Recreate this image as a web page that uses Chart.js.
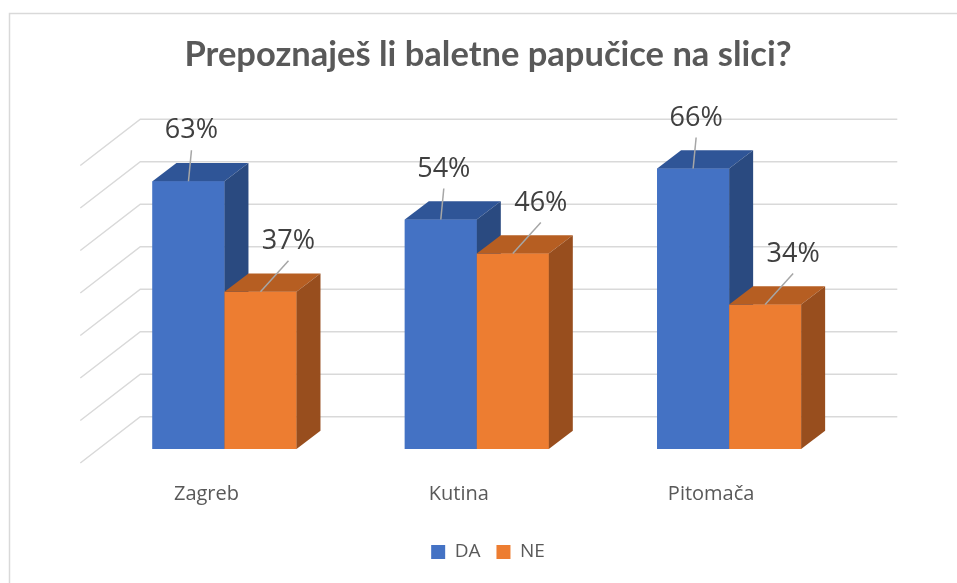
<!DOCTYPE html>
<html>
<head>
<meta charset="utf-8">
<script src="https://cdn.jsdelivr.net/npm/chart.js@4.4.0/dist/chart.umd.min.js"></script>
<style>
  html, body { margin: 0; padding: 0; background: #fff; }
  #wrap { width: 957px; height: 583px; }
</style>
</head>
<body>
<div id="wrap"><canvas id="chart" width="957" height="583"></canvas></div>
<script>
// chart data
const categories = ['Zagreb', 'Kutina', 'Pitomača'];
const seriesNames = ['DA', 'NE'];
const daValues = [63, 54, 66];
const neValues = [37, 46, 34];
const yTicks = [0, 10, 20, 30, 40, 50, 60, 70];

// fake 3d: depth of a bar, and the gap between bar and wall / floor edge
const DEPTH = { x: 24, y: 18.3 };
const GAP = { x: 18, y: 14 };

// draws the back wall, the side faces of the bars and the data labels
const box3d = {
  id: 'box3d',
  beforeDraw(chart) {
    const ctx = chart.ctx;
    ctx.save();
    ctx.strokeStyle = '#d9d9d9';
    ctx.lineWidth = 1.5;
    ctx.beginPath();
    ctx.moveTo(9.5, 583);
    ctx.lineTo(9.5, 13.5);
    ctx.lineTo(957, 13.5);
    ctx.stroke();
    ctx.restore();
  },
  beforeDatasetsDraw(chart) {
    const { ctx, chartArea: a, scales: { y } } = chart;
    const wx = DEPTH.x + GAP.x, wy = DEPTH.y + GAP.y;
    ctx.save();
    ctx.strokeStyle = '#d9d9d9';
    ctx.lineWidth = 1.5;
    yTicks.forEach(function(v) {
      const py = y.getPixelForValue(v);
      ctx.beginPath();
      ctx.moveTo(a.left - GAP.x, py + GAP.y);
      ctx.lineTo(a.left + wx, py - wy);
      ctx.lineTo(a.right + wx, py - wy);
      ctx.stroke();
    });
    ctx.restore();
  },
  afterDatasetsDraw(chart) {
    const ctx = chart.ctx;
    ctx.save();
    // faces, series by series so the next front face hides the side behind it
    chart.data.datasets.forEach(function(ds, i) {
      chart.getDatasetMeta(i).data.forEach(function(bar) {
        const l = bar.x - bar.width / 2, r = bar.x + bar.width / 2;
        bar.draw(ctx);
        ctx.fillStyle = ds.topColor;
        ctx.beginPath();
        ctx.moveTo(l, bar.y);
        ctx.lineTo(r, bar.y);
        ctx.lineTo(r + DEPTH.x, bar.y - DEPTH.y);
        ctx.lineTo(l + DEPTH.x, bar.y - DEPTH.y);
        ctx.closePath();
        ctx.fill();
        ctx.fillStyle = ds.sideColor;
        ctx.beginPath();
        ctx.moveTo(r, bar.y);
        ctx.lineTo(r + DEPTH.x, bar.y - DEPTH.y);
        ctx.lineTo(r + DEPTH.x, bar.base - DEPTH.y);
        ctx.lineTo(r, bar.base);
        ctx.closePath();
        ctx.fill();
      });
    });
    // data labels with leader lines
    ctx.font = '27px "Open Sans"';
    ctx.textAlign = 'center';
    ctx.textBaseline = 'alphabetic';
    chart.data.datasets.forEach(function(ds, i) {
      chart.getDatasetMeta(i).data.forEach(function(bar, j) {
        const lx = bar.x + ds.labelShift;
        ctx.strokeStyle = '#a6a6a6';
        ctx.lineWidth = 1.5;
        ctx.beginPath();
        ctx.moveTo(lx, bar.y - 31);
        ctx.lineTo(bar.x, bar.y);
        ctx.stroke();
        ctx.fillStyle = '#404040';
        ctx.fillText(ds.data[j] + '%', lx, bar.y - 43);
      });
    });
    ctx.restore();
  }
};

new Chart('chart', {
  type: 'bar',
  data: {
    labels: categories,
    datasets: [
      {
        label: seriesNames[0],
        data: daValues,
        backgroundColor: '#4472c4',
        topColor: '#2f5597',
        sideColor: '#2a4a80',
        labelShift: 3
      }, {
        label: seriesNames[1],
        data: neValues,
        backgroundColor: '#ed7d31',
        topColor: '#b65e22',
        sideColor: '#984e1e',
        labelShift: 28
      }
    ]
  },
  options: {
    responsive: false,
    devicePixelRatio: 1,
    animation: false,
    categoryPercentage: 0.5707,
    barPercentage: 1,
    layout: {
      padding: { left: 60, right: 41, top: 0, bottom: 11.5 }
    },
    scales: {
      x: {
        grid: { display: false, drawTicks: false },
        border: { display: false },
        ticks: {
          padding: 33,
          labelOffset: -18,
          color: '#595959',
          font: { family: 'Open Sans', size: 20 }
        },
        afterFit: function(scale) { scale.height = 77.5; }
      },
      y: {
        min: 0,
        max: 70,
        ticks: { display: false, stepSize: 10 },
        grid: { display: false },
        border: { display: false },
        afterFit: function(scale) { scale.width = 38.3; }
      },
      // empty axis that only keeps room on the right
      yRight: {
        type: 'linear',
        position: 'right',
        ticks: { display: false },
        grid: { display: false },
        border: { display: false },
        afterFit: function(scale) { scale.width = 60.7; }
      }
    },
    plugins: {
      title: {
        display: true,
        text: 'Prepoznaješ li baletne papučice na slici?',
        color: '#595959',
        font: { family: 'Lato', size: 34.5, weight: 'bold' },
        padding: { top: 34, bottom: 76.1 }
      },
      legend: {
        position: 'bottom',
        labels: {
          boxWidth: 14,
          boxHeight: 14,
          padding: 16,
          color: '#595959',
          font: { family: 'Open Sans', size: 19 }
        }
      },
      tooltip: { enabled: false }
    }
  },
  plugins: [box3d]
});
</script>
</body>
</html>
